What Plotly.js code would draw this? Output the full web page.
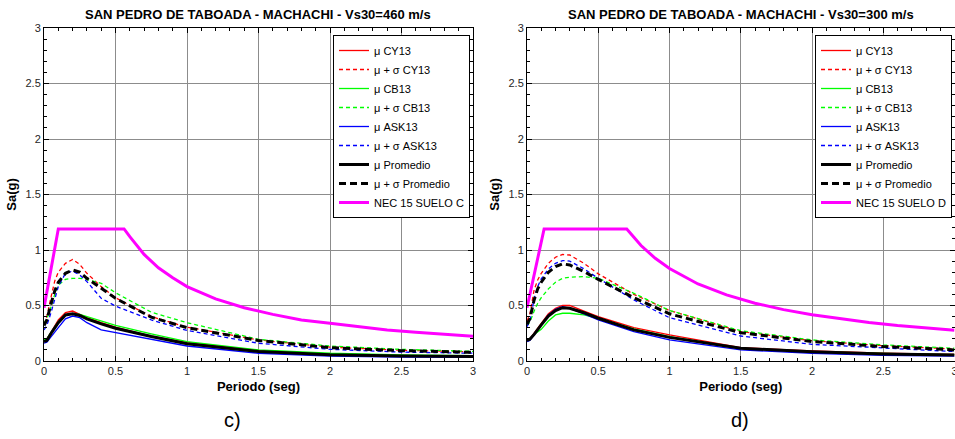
<!DOCTYPE html>
<html>
<head>
<meta charset="utf-8">
<script src="https://cdn.plot.ly/plotly-3.0.1.min.js"></script>
<style>html,body{margin:0;padding:0;background:#fff}#chart{width:955px;height:439px}</style>
</head>
<body>
<div id="chart"></div>
<script>
// Periods (s) at which the GMPE spectra are read
const periods = [0, 0.02, 0.05, 0.075, 0.1, 0.15, 0.2, 0.25, 0.3, 0.4, 0.5, 0.75, 1, 1.5, 2, 2.5, 3];

// Panel c) Vs30 = 460 m/s
const c_CY13      = [0.18, 0.20, 0.26, 0.32, 0.37, 0.435, 0.45, 0.42, 0.39, 0.345, 0.305, 0.225, 0.165, 0.095, 0.062, 0.05, 0.043];
const c_CY13_sig  = [0.33, 0.40, 0.58, 0.72, 0.80, 0.88, 0.915, 0.87, 0.79, 0.67, 0.57, 0.40, 0.305, 0.19, 0.125, 0.097, 0.082];
const c_CB13      = [0.19, 0.20, 0.26, 0.31, 0.355, 0.41, 0.425, 0.42, 0.40, 0.355, 0.32, 0.245, 0.175, 0.10, 0.07, 0.055, 0.048];
const c_CB13_sig  = [0.34, 0.38, 0.49, 0.60, 0.685, 0.735, 0.745, 0.745, 0.735, 0.70, 0.615, 0.44, 0.345, 0.195, 0.135, 0.105, 0.087];
const c_ASK13     = [0.16, 0.17, 0.22, 0.265, 0.30, 0.38, 0.405, 0.39, 0.345, 0.28, 0.255, 0.195, 0.135, 0.07, 0.045, 0.036, 0.033];
const c_ASK13_sig = [0.28, 0.32, 0.44, 0.56, 0.67, 0.79, 0.81, 0.775, 0.715, 0.565, 0.495, 0.37, 0.275, 0.16, 0.105, 0.08, 0.07];
const c_Prom      = [0.175, 0.185, 0.25, 0.30, 0.345, 0.415, 0.425, 0.41, 0.38, 0.335, 0.295, 0.22, 0.155, 0.085, 0.057, 0.045, 0.04];
const c_Prom_sig  = [0.32, 0.37, 0.52, 0.63, 0.71, 0.79, 0.82, 0.80, 0.745, 0.655, 0.565, 0.395, 0.30, 0.185, 0.12, 0.093, 0.078];

// NEC 15 suelo C design spectrum
const necC_T  = [0, 0.1, 0.56, 0.6, 0.7, 0.8, 0.9, 1.0, 1.2, 1.4, 1.6, 1.8, 2.0, 2.2, 2.4, 2.6, 2.8, 3.0];
const necC_Sa = [0.48, 1.19, 1.19, 1.12, 0.96, 0.84, 0.75, 0.67, 0.56, 0.48, 0.42, 0.37, 0.34, 0.31, 0.28, 0.26, 0.24, 0.224];

// Panel d) Vs30 = 300 m/s
const d_CY13      = [0.19, 0.20, 0.25, 0.30, 0.34, 0.425, 0.475, 0.50, 0.50, 0.45, 0.40, 0.30, 0.235, 0.12, 0.09, 0.07, 0.06];
const d_CY13_sig  = [0.36, 0.42, 0.64, 0.73, 0.79, 0.88, 0.935, 0.96, 0.955, 0.88, 0.785, 0.60, 0.455, 0.265, 0.183, 0.138, 0.108];
const d_CB13      = [0.19, 0.20, 0.24, 0.265, 0.285, 0.36, 0.415, 0.43, 0.43, 0.415, 0.385, 0.29, 0.22, 0.115, 0.085, 0.068, 0.058];
const d_CB13_sig  = [0.32, 0.35, 0.45, 0.52, 0.57, 0.65, 0.71, 0.745, 0.755, 0.76, 0.745, 0.61, 0.455, 0.273, 0.19, 0.145, 0.115];
const d_ASK13     = [0.175, 0.185, 0.235, 0.285, 0.33, 0.415, 0.465, 0.49, 0.475, 0.425, 0.37, 0.265, 0.19, 0.10, 0.07, 0.05, 0.045];
const d_ASK13_sig = [0.31, 0.36, 0.56, 0.67, 0.74, 0.83, 0.88, 0.905, 0.90, 0.83, 0.745, 0.55, 0.39, 0.225, 0.15, 0.115, 0.085];
const d_Prom      = [0.185, 0.195, 0.24, 0.285, 0.325, 0.405, 0.455, 0.48, 0.475, 0.435, 0.385, 0.28, 0.213, 0.114, 0.084, 0.063, 0.054];
const d_Prom_sig  = [0.33, 0.38, 0.55, 0.65, 0.71, 0.80, 0.85, 0.875, 0.865, 0.805, 0.735, 0.57, 0.425, 0.255, 0.175, 0.13, 0.10];

// NEC 15 suelo D design spectrum
const necD_T  = [0, 0.12, 0.70, 0.75, 0.8, 0.9, 1.0, 1.2, 1.4, 1.6, 1.8, 2.0, 2.2, 2.4, 2.6, 2.8, 3.0];
const necD_Sa = [0.48, 1.19, 1.19, 1.11, 1.04, 0.925, 0.833, 0.694, 0.595, 0.52, 0.463, 0.417, 0.379, 0.347, 0.32, 0.297, 0.278];

const legendNames = ['\u03bc CY13', '\u03bc + \u03c3 CY13', '\u03bc CB13', '\u03bc + \u03c3 CB13',
  '\u03bc ASK13', '\u03bc + \u03c3 ASK13', '\u03bc Promedio', '\u03bc + \u03c3 Promedio'];
const titles = ['SAN PEDRO DE TABOADA - MACHACHI - Vs30=460 m/s', 'SAN PEDRO DE TABOADA - MACHACHI - Vs30=300 m/s'];
const necNames = ['NEC 15 SUELO C', 'NEC 15 SUELO D'];
const panelLabels = ['c)', 'd)'];
const tickVals = [0, 0.5, 1, 1.5, 2, 2.5, 3];
const tickText = ['0', '0.5', '1', '1.5', '2', '2.5', '3'];

const styles = [
  {color: '#ff0000', width: 1.3, dash: 'solid'},
  {color: '#ff0000', width: 1.3, dash: '4px,3px'},
  {color: '#00ff00', width: 1.3, dash: 'solid'},
  {color: '#00ff00', width: 1.3, dash: '4px,3px'},
  {color: '#0000ff', width: 1.3, dash: 'solid'},
  {color: '#0000ff', width: 1.3, dash: '4px,3px'},
  {color: '#000000', width: 3, dash: 'solid'},
  {color: '#000000', width: 3, dash: '7px,4px'}
];

const panels = [
  {series: [c_CY13, c_CY13_sig, c_CB13, c_CB13_sig, c_ASK13, c_ASK13_sig, c_Prom, c_Prom_sig], necT: necC_T, necSa: necC_Sa},
  {series: [d_CY13, d_CY13_sig, d_CB13, d_CB13_sig, d_ASK13, d_ASK13_sig, d_Prom, d_Prom_sig], necT: necD_T, necSa: necD_Sa}
];

const FONT = 'Arial, "Liberation Sans", sans-serif';
const traces = [];
panels.forEach((p, i) => {
  const xa = i === 0 ? 'x' : 'x2';
  const ya = i === 0 ? 'y' : 'y2';
  const lg = i === 0 ? 'legend' : 'legend2';
  p.series.forEach((s, k) => {
    traces.push({x: periods, y: s, type: 'scatter', mode: 'lines', name: legendNames[k],
      xaxis: xa, yaxis: ya, legend: lg, line: styles[k]});
  });
  traces.push({x: p.necT, y: p.necSa, type: 'scatter', mode: 'lines', name: necNames[i],
    xaxis: xa, yaxis: ya, legend: lg, line: {color: '#ff00ff', width: 3}});
});

function axisBase(domain, anchor) {
  return {domain: domain, anchor: anchor, range: [0, 3], tickvals: tickVals, ticktext: tickText,
    ticks: 'inside', ticklen: 5, tickcolor: '#000', showline: true, linecolor: '#000', linewidth: 1,
    mirror: 'allticks', showgrid: true, gridcolor: '#8c8c8c', gridwidth: 1, zeroline: false,
    minor: {dtick: 0.1, ticks: 'inside', ticklen: 3, tickcolor: '#000', showgrid: false},
    tickfont: {family: FONT, size: 11, color: '#262626'}, ticklabeloverflow: 'allow',
    fixedrange: true, automargin: false};
}
function xAxis(domain, anchor) {
  const a = axisBase(domain, anchor);
  a.title = {text: 'Periodo (seg)', font: {family: FONT, size: 13, color: '#000', weight: 'bold'}, standoff: 5};
  return a;
}
function yAxis(domain, anchor) {
  const a = axisBase(domain, anchor);
  a.title = {text: 'Sa(g)', font: {family: FONT, size: 13, color: '#000', weight: 'bold'}, standoff: 5};
  return a;
}

const yDom = [1 - 361 / 439, 1 - 28 / 439];
function legendBox(xpx) {
  return {x: xpx / 955, y: 1 - 35 / 439, xanchor: 'left', yanchor: 'top', bgcolor: '#ffffff',
    bordercolor: '#000', borderwidth: 1, font: {family: FONT, size: 11, color: '#000'},
    itemwidth: 30, tracegroupgap: 0};
}

const layout = {
  width: 955, height: 439, margin: {l: 0, r: 0, t: 0, b: 0},
  paper_bgcolor: '#fff', plot_bgcolor: '#fff', showlegend: true,
  xaxis: xAxis([44 / 955, 473 / 955], 'y'),
  yaxis: yAxis(yDom, 'x'),
  xaxis2: xAxis([527 / 955, 0.9995], 'y2'),
  yaxis2: yAxis(yDom, 'x2'),
  legend: legendBox(333),
  legend2: legendBox(815),
  annotations: [
    {text: '<b>' + titles[0] + '</b>', x: 258 / 955, y: 1 - 15 / 439, xref: 'paper', yref: 'paper',
      xanchor: 'center', yanchor: 'middle', showarrow: false, font: {family: FONT, size: 13, color: '#000'}},
    {text: '<b>' + titles[1] + '</b>', x: 741 / 955, y: 1 - 15 / 439, xref: 'paper', yref: 'paper',
      xanchor: 'center', yanchor: 'middle', showarrow: false, font: {family: FONT, size: 13, color: '#000'}},
    {text: panelLabels[0], x: 232 / 955, y: 1 - 420 / 439, xref: 'paper', yref: 'paper',
      xanchor: 'center', yanchor: 'middle', showarrow: false, font: {family: FONT, size: 20, color: '#000'}},
    {text: panelLabels[1], x: 740 / 955, y: 1 - 420 / 439, xref: 'paper', yref: 'paper',
      xanchor: 'center', yanchor: 'middle', showarrow: false, font: {family: FONT, size: 20, color: '#000'}}
  ]
};

Plotly.newPlot('chart', traces, layout, {staticPlot: true, displayModeBar: false});
</script>
</body>
</html>
